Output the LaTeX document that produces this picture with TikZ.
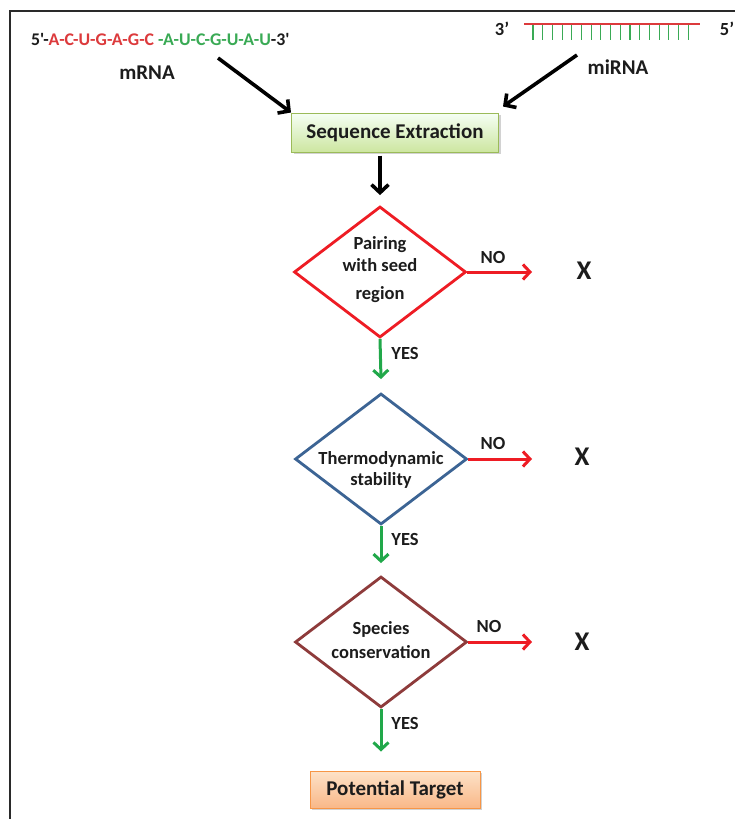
\documentclass[tikz,border=0pt]{standalone}
\usepackage{fontspec}
\setmainfont{Carlito}
\newfontfamily\seqfont{Carlito}
\usetikzlibrary{arrows.meta,shapes.geometric,shadows}
\definecolor{txt}{HTML}{1C1C1C}
\definecolor{frame}{HTML}{2A2A2A}
\definecolor{seqred}{HTML}{DC3A3C}
\definecolor{seqgreen}{HTML}{3AAA55}
\definecolor{dred}{HTML}{EE1C24}
\definecolor{dblue}{HTML}{3C6494}
\definecolor{dbrown}{HTML}{8E3B3B}
\definecolor{agreen}{HTML}{21A84A}
\definecolor{boxgreen}{HTML}{9BBB59}
\definecolor{boxorange}{HTML}{F79646}
\begin{document}
\begin{tikzpicture}[x=1pt,y=-1pt,
  lbl/.style={font=\bfseries\fontsize{21}{24}\selectfont, text=txt, inner sep=0},
  small/.style={font=\bfseries\fontsize{18.5}{22}\selectfont, text=txt, inner sep=0},
  dtxt/.style={font=\bfseries\fontsize{18.5}{21.5}\selectfont, align=center, text=txt, inner sep=0},
  cross/.style={font=\bfseries\fontsize{27}{30}\selectfont, text=txt, inner sep=0},
  dia/.style={shape=diamond, minimum width=172pt, minimum height=131pt, inner sep=0, line width=2.8pt, fill=white},
  blk/.style={line width=3.6pt, draw=black, -{Straight Barb[length=8pt,width=17pt]}},
  noarr/.style={line width=3pt, draw=dred, -{Straight Barb[length=7pt,width=15pt]}},
  yesarr/.style={line width=3pt, draw=agreen, -{Straight Barb[length=7pt,width=15pt]}},
  seqbox/.style={draw=boxgreen, line width=1pt, top color=green!4!white, bottom color={rgb,255:red,205;green,230;blue,160},
    minimum width=207pt, minimum height=39pt, inner sep=0,
    drop shadow={shadow xshift=2pt, shadow yshift=-2pt, opacity=0.35}},
  ptbox/.style={draw=boxorange, line width=1pt, top color={rgb,255:red,253;green,226;blue,200}, bottom color={rgb,255:red,249;green,184;blue,136},
    minimum width=170pt, minimum height=37pt, inner sep=0,
    drop shadow={shadow xshift=2pt, shadow yshift=-2pt, opacity=0.35}}
]
\useasboundingbox (0,0) rectangle (735,819);
\fill[white] (0,0) rectangle (735,819);
\draw[line width=2.2pt, frame] (10,819) -- (10,11) -- (735,11);

% mRNA sequence
\node[font=\seqfont\bfseries\fontsize{17.8}{20}\selectfont, text=txt, inner sep=0, anchor=base west] (seqtxt) at (31,45)
  {5'-{\color{seqred}A-C-U-G-A-G-C} {\color{seqgreen}-A-U-C-G-U-A-U}-3'};
\node[lbl] (mrna) at (147,73) {mRNA};

% miRNA strand
\draw[line width=1.3pt, seqred] (524,24) -- (700,24);
\foreach \i in {0,...,16}{
  \draw[line width=1.1pt, seqgreen] ({533+9.7*\i},25) -- ++(0,15);
}
\node[small] (three) at (502,29) {3’};
\node[small] (five) at (727,29) {5’};
\node[lbl] (mirna) at (618,67) {miRNA};

% Sequence extraction
\node[seqbox] (seq) at (395,132.5) {};
\node[lbl] (seqlbl) at (seq.center) {Sequence Extraction};

\coordinate (ma) at (218,58);
\coordinate (mi) at (577,55);
\draw[blk] (ma) -- (seq.north west);
\draw[blk] (mi) -- ([xshift=4pt,yshift=6pt]seq.north east);

% diamonds
\node[dia, draw=dred] (d1) at (380,272) {};
\node[dtxt] (t1) at (380,270) {Pairing\\with seed\\[7pt]region};
\node[dia, draw=dblue] (d2) at (381,459) {};
\node[dtxt] (t2) at (381,470) {Thermodynamic\\stability};
\node[dia, draw=dbrown] (d3) at (381,642) {};
\node[dtxt] (t3) at (381,640) {Species\\[3pt]conservation};

\draw[blk] (d1.north |- seq.south) ++(0,3) coordinate (s1) -- ([yshift=10pt]d1.north);

% NO branches
\node[cross] (x1) at (584,271) {X};
\node[cross] (x2) at (582,457) {X};
\node[cross] (x3) at (582,642) {X};
\draw[noarr] (d1.east) -- ([xshift=-52pt]d1.east -| x1.center);
\draw[noarr] (d2.east) -- ([xshift=-50pt]d2.east -| x2.center);
\draw[noarr] (d3.east) -- ([xshift=-50pt]d3.east -| x3.center);
\node[small] (no1) at (493,257) {NO};
\node[small] (no2) at (493,443) {NO};
\node[small] (no3) at (489,626) {NO};

% YES branches
\node[ptbox] (pt) at (395,789.5) {};
\node[lbl] (ptlbl) at (pt.center) {Potential Target};
\draw[yesarr] (d1.south) -- ([yshift=13pt]d2.north);
\draw[yesarr] (d2.south) -- ([yshift=12pt]d3.north);
\draw[yesarr] (d3.south) -- ([yshift=19pt]d3.south |- pt.north);
\node[small] (y1) at (405,353) {YES};
\node[small] (y2) at (405,539) {YES};
\node[small] (y3) at (405,723) {YES};
\end{tikzpicture}
\end{document}
